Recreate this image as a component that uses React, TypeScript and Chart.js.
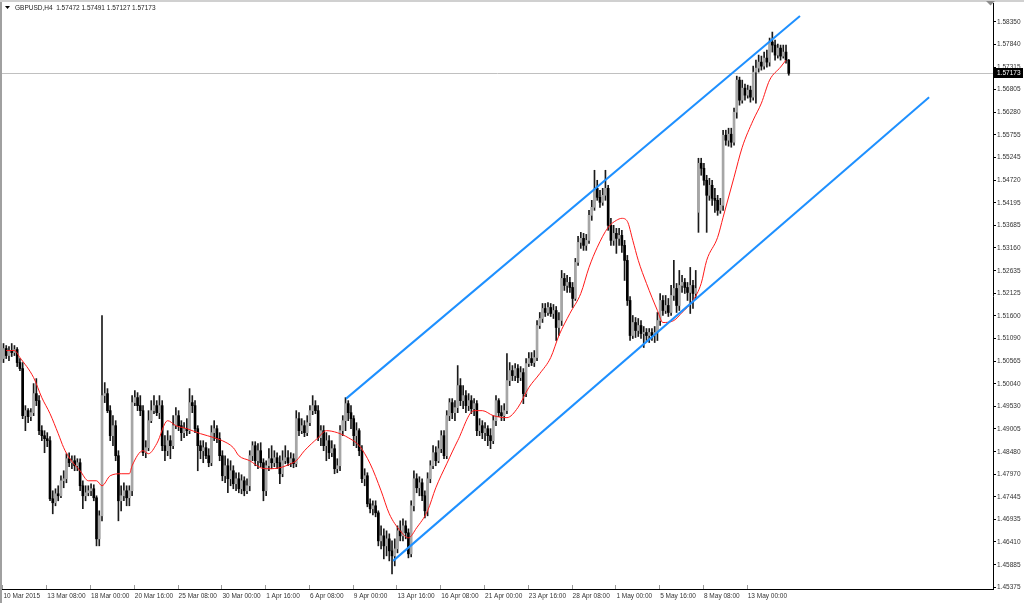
import React, { useEffect, useRef } from "react";
import { Chart, registerables } from "chart.js";

Chart.register(...registerables);

const symbolTitle = "GBPUSD,H4";
const headerValues = ["1.57472", "1.57491", "1.57127", "1.57173"];
const lastClose = 1.57173;

const opens = [
  1.50621,1.50851,1.50690,1.50805,1.50759,1.50828,1.50529,1.50391,1.49310,1.49425,
  1.49287,1.49379,1.49816,1.49655,1.48965,1.48850,1.48781,1.48735,1.47401,1.47309,
  1.47516,1.47470,1.47815,1.47861,1.48321,1.48229,1.48275,1.48160,1.48229,1.47700,
  1.47470,1.47539,1.47585,1.47631,1.47424,1.46481,1.47010,1.49770,1.49816,1.49425,
  1.48850,1.49080,1.48390,1.47355,1.47470,1.47585,1.47424,1.47585,1.49609,1.49724,
  1.49540,1.49425,1.48459,1.48574,1.49195,1.49425,1.49540,1.49379,1.49540,1.48620,
  1.48505,1.48735,1.48620,1.49080,1.49310,1.49080,1.48919,1.49011,1.48965,1.49609,
  1.49540,1.49011,1.48620,1.48505,1.48574,1.48390,1.48229,1.48919,1.49011,1.48781,
  1.48390,1.47930,1.48160,1.47861,1.48045,1.47746,1.47861,1.47631,1.47815,1.47585,
  1.47700,1.48390,1.48620,1.48275,1.48505,1.48229,1.47585,1.48160,1.48321,1.48229,
  1.48344,1.48229,1.47976,1.48275,1.48344,1.48229,1.48321,1.48206,1.49241,1.48965,
  1.49080,1.48919,1.49149,1.49425,1.49540,1.49425,1.48804,1.48965,1.48620,1.48735,
  1.48459,1.48551,1.48091,1.48160,1.48965,1.49195,1.49586,1.49379,1.49241,1.48850,
  1.48965,1.48505,1.47861,1.47930,1.47286,1.47171,1.47240,1.47079,1.46435,1.46550,
  1.46320,1.46481,1.46205,1.46090,1.46251,1.46665,1.46550,1.46780,1.46619,1.46136,
  1.47240,1.47861,1.47654,1.47769,1.47470,1.47125,1.47861,1.48160,1.48459,1.48275,
  1.48551,1.48850,1.48390,1.49310,1.49609,1.49379,1.49494,1.50000,1.49655,1.49770,
  1.49540,1.49655,1.49471,1.49586,1.48965,1.49080,1.48919,1.49011,1.48850,1.48735,
  1.49195,1.49655,1.49379,1.49310,1.49425,1.50115,1.50345,1.50230,1.50391,1.50184,
  1.50299,1.49816,1.50506,1.50621,1.50529,1.50644,1.51380,1.51541,1.51771,1.51679,
  1.51794,1.51656,1.51725,1.51334,1.51495,1.52461,1.52300,1.52369,1.52254,1.52001,
  1.52829,1.53289,1.53381,1.53220,1.53335,1.53910,1.54094,1.54531,1.54324,1.54209,
  1.54370,1.54531,1.53680,1.53335,1.53496,1.53381,1.53450,1.53220,1.52875,1.51955,
  1.51150,1.51449,1.51265,1.51380,1.51196,1.51219,1.51150,1.51219,1.51150,1.51219,
  1.51495,1.51955,1.51725,1.51840,1.51679,1.52070,1.52231,1.51840,1.52300,1.52369,
  1.52254,1.52139,1.52300,1.52116,1.53979,1.55106,1.54991,1.54715,1.54370,1.54600,
  1.54301,1.54255,1.54025,1.54140,1.55750,1.55635,1.55773,1.55589,1.56279,1.57015,
  1.56555,1.56831,1.56670,1.56785,1.56624,1.57199,1.57291,1.57429,1.57337,1.57521,
  1.57429,1.57889,1.57820,1.57590,1.57751,1.57567,1.57659,1.57472
];

const highs = [
  1.50966,1.50920,1.50897,1.50966,1.50920,1.50874,1.50621,1.50529,1.49540,1.49471,
  1.49471,1.50046,1.50161,1.49770,1.49080,1.48965,1.48919,1.48827,1.47585,1.47631,
  1.47700,1.47930,1.48045,1.48436,1.48459,1.48390,1.48390,1.48321,1.48321,1.47815,
  1.47700,1.47700,1.47746,1.47723,1.47470,1.47125,1.51610,1.50069,1.49931,1.49540,
  1.49310,1.49195,1.48505,1.47700,1.47769,1.47700,1.47700,1.49770,1.49885,1.49839,
  1.49770,1.49540,1.48735,1.49425,1.49655,1.49770,1.49655,1.49770,1.49655,1.48850,
  1.48965,1.48850,1.49310,1.49494,1.49425,1.49195,1.49149,1.49241,1.49931,1.49770,
  1.49655,1.49080,1.48735,1.48735,1.48689,1.48551,1.49080,1.49195,1.49080,1.48919,
  1.48505,1.48390,1.48321,1.48275,1.48160,1.47999,1.47999,1.47953,1.47907,1.47861,
  1.48505,1.48712,1.48712,1.48666,1.48689,1.48321,1.48275,1.48551,1.48620,1.48505,
  1.48459,1.48390,1.48505,1.48620,1.48505,1.48459,1.48436,1.49425,1.49379,1.49241,
  1.49195,1.49310,1.49540,1.49770,1.49655,1.49540,1.49080,1.49080,1.48919,1.48850,
  1.48735,1.48643,1.48321,1.49080,1.49310,1.49724,1.49655,1.49540,1.49310,1.49149,
  1.49011,1.48620,1.48091,1.47999,1.47401,1.47355,1.47355,1.47125,1.46780,1.46711,
  1.46665,1.46596,1.46435,1.46481,1.46780,1.46895,1.46941,1.46895,1.46711,1.47355,
  1.48045,1.47976,1.47907,1.47861,1.47585,1.47999,1.48275,1.48620,1.48597,1.48735,
  1.48965,1.48965,1.49425,1.49701,1.49701,1.49655,1.50460,1.50161,1.50000,1.49885,
  1.49816,1.49770,1.49701,1.49655,1.49241,1.49195,1.49149,1.49080,1.49011,1.49310,
  1.49770,1.49701,1.49540,1.49586,1.50736,1.50529,1.50460,1.50506,1.50483,1.50437,
  1.50391,1.50621,1.50759,1.50759,1.50805,1.51495,1.51679,1.51886,1.51886,1.51909,
  1.51886,1.51863,1.51817,1.51679,1.52645,1.52576,1.52530,1.52484,1.52369,1.52921,
  1.53427,1.53519,1.53496,1.53473,1.54025,1.54255,1.54945,1.54715,1.54485,1.54531,
  1.54945,1.54600,1.53841,1.53680,1.53611,1.53611,1.53565,1.53335,1.52990,1.52047,
  1.51610,1.51564,1.51541,1.51495,1.51357,1.51311,1.51311,1.51311,1.51357,1.51679,
  1.52116,1.52070,1.52070,1.52001,1.52300,1.52875,1.52346,1.52645,1.52530,1.52461,
  1.52369,1.52714,1.52415,1.52645,1.55221,1.55221,1.55106,1.54830,1.54761,1.54715,
  1.54531,1.54370,1.54301,1.55865,1.55865,1.55911,1.55911,1.56371,1.57107,1.57084,
  1.57015,1.56923,1.56900,1.56877,1.57337,1.57475,1.57590,1.57567,1.57659,1.57705,
  1.57981,1.58119,1.57935,1.57843,1.57820,1.57820,1.57820,1.57491
];

const lows = [
  1.50529,1.50621,1.50575,1.50667,1.50690,1.50437,1.50345,1.49241,1.48965,1.49149,
  1.49195,1.49310,1.49540,1.48873,1.48735,1.48459,1.48597,1.47355,1.47056,1.47240,
  1.47355,1.47424,1.47654,1.47769,1.48137,1.48091,1.48045,1.48045,1.47585,1.47171,
  1.47355,1.47470,1.47470,1.47355,1.46320,1.46320,1.46895,1.49609,1.49379,1.48735,
  1.48620,1.48275,1.46895,1.47125,1.47355,1.47240,1.47240,1.47470,1.49540,1.49425,
  1.49310,1.48390,1.48344,1.48505,1.49149,1.49356,1.49310,1.49241,1.48505,1.48275,
  1.48390,1.48321,1.48551,1.49011,1.48965,1.48735,1.48804,1.48850,1.48896,1.49379,
  1.48919,1.48045,1.48321,1.48229,1.48321,1.48137,1.48160,1.48735,1.48689,1.48275,
  1.47815,1.47769,1.47539,1.47700,1.47631,1.47585,1.47539,1.47516,1.47470,1.47516,
  1.47585,1.48275,1.48160,1.48091,1.48137,1.47355,1.47470,1.48045,1.48091,1.48137,
  1.48091,1.47746,1.47907,1.48206,1.48160,1.48137,1.48114,1.48137,1.48850,1.48896,
  1.48827,1.48850,1.49080,1.49333,1.49356,1.48735,1.48620,1.48505,1.48275,1.48321,
  1.48367,1.47976,1.47999,1.48045,1.48850,1.48965,1.49195,1.49011,1.48620,1.48574,
  1.48390,1.47769,1.47700,1.47217,1.47079,1.47033,1.46987,1.46320,1.46251,1.46021,
  1.46090,1.45975,1.45676,1.45860,1.46159,1.46435,1.46435,1.46481,1.46044,1.46067,
  1.47125,1.47539,1.47470,1.47355,1.46964,1.47010,1.47769,1.48091,1.48160,1.48229,
  1.48459,1.48321,1.48321,1.49195,1.49241,1.49195,1.49379,1.49540,1.49471,1.49379,
  1.49425,1.49356,1.49310,1.48850,1.48850,1.48781,1.48735,1.48620,1.48551,1.48666,
  1.49080,1.49287,1.49195,1.49195,1.49356,1.50000,1.50115,1.50115,1.50069,1.50115,
  1.49586,1.49747,1.50437,1.50460,1.50437,1.50575,1.51311,1.51449,1.51587,1.51610,
  1.51587,1.51541,1.51035,1.51150,1.51380,1.52185,1.52139,1.52139,1.51794,1.51955,
  1.52760,1.53151,1.53105,1.53105,1.53266,1.53795,1.54025,1.54255,1.54094,1.54140,
  1.54255,1.53565,1.53220,1.53220,1.53036,1.53220,1.53059,1.52415,1.51840,1.51035,
  1.51081,1.51104,1.51127,1.51081,1.50874,1.51035,1.50989,1.51035,1.50989,1.51035,
  1.51380,1.51610,1.51656,1.51587,1.51610,1.51955,1.51679,1.51725,1.52139,1.52116,
  1.51955,1.51656,1.51771,1.52001,1.53519,1.54830,1.54600,1.53519,1.54255,1.54140,
  1.53979,1.53910,1.53956,1.54025,1.55520,1.55497,1.55474,1.55520,1.56141,1.56440,
  1.56486,1.56555,1.56601,1.56509,1.56555,1.56486,1.57199,1.57245,1.57268,1.57314,
  1.57337,1.57659,1.57475,1.57521,1.57475,1.57521,1.57406,1.57127
];

const closes = [
  1.50851,1.50690,1.50805,1.50759,1.50828,1.50529,1.50391,1.49310,1.49425,1.49287,
  1.49379,1.49816,1.49655,1.48965,1.48850,1.48781,1.48735,1.47401,1.47309,1.47516,
  1.47470,1.47815,1.47861,1.48321,1.48229,1.48275,1.48160,1.48229,1.47700,1.47470,
  1.47539,1.47585,1.47631,1.47424,1.46481,1.47010,1.49770,1.49816,1.49425,1.48850,
  1.49080,1.48390,1.47355,1.47470,1.47585,1.47424,1.47585,1.49609,1.49724,1.49540,
  1.49425,1.48459,1.48574,1.49195,1.49425,1.49540,1.49379,1.49540,1.48620,1.48505,
  1.48735,1.48620,1.49080,1.49310,1.49080,1.48919,1.49011,1.48965,1.49609,1.49540,
  1.49011,1.48620,1.48505,1.48574,1.48390,1.48229,1.48919,1.49011,1.48781,1.48390,
  1.47930,1.48160,1.47861,1.48045,1.47746,1.47861,1.47631,1.47815,1.47585,1.47700,
  1.48390,1.48620,1.48275,1.48505,1.48229,1.47585,1.48160,1.48321,1.48229,1.48344,
  1.48229,1.47976,1.48275,1.48344,1.48229,1.48321,1.48206,1.49241,1.48965,1.49080,
  1.48919,1.49149,1.49425,1.49540,1.49425,1.48804,1.48965,1.48620,1.48735,1.48459,
  1.48551,1.48091,1.48160,1.48965,1.49195,1.49586,1.49379,1.49241,1.48850,1.48965,
  1.48505,1.47861,1.47930,1.47286,1.47171,1.47240,1.47079,1.46435,1.46550,1.46320,
  1.46481,1.46205,1.46090,1.46251,1.46665,1.46550,1.46780,1.46619,1.46136,1.47240,
  1.47861,1.47654,1.47769,1.47470,1.47125,1.47861,1.48160,1.48459,1.48275,1.48551,
  1.48850,1.48390,1.49310,1.49609,1.49379,1.49494,1.50000,1.49655,1.49770,1.49540,
  1.49655,1.49471,1.49586,1.48965,1.49080,1.48919,1.49011,1.48850,1.48735,1.49195,
  1.49655,1.49379,1.49310,1.49425,1.50115,1.50345,1.50230,1.50391,1.50184,1.50299,
  1.49816,1.50506,1.50621,1.50529,1.50644,1.51380,1.51541,1.51771,1.51679,1.51794,
  1.51656,1.51725,1.51334,1.51495,1.52461,1.52300,1.52369,1.52254,1.52001,1.52829,
  1.53289,1.53381,1.53220,1.53335,1.53910,1.54094,1.54531,1.54324,1.54209,1.54370,
  1.54531,1.53680,1.53335,1.53496,1.53381,1.53450,1.53220,1.52875,1.51955,1.51150,
  1.51449,1.51265,1.51380,1.51196,1.51219,1.51150,1.51219,1.51150,1.51219,1.51495,
  1.51955,1.51725,1.51840,1.51679,1.52070,1.52231,1.51840,1.52300,1.52369,1.52254,
  1.52139,1.52300,1.52116,1.52231,1.55106,1.54991,1.54715,1.54370,1.54600,1.54301,
  1.54255,1.54025,1.54140,1.55750,1.55635,1.55773,1.55589,1.56279,1.57015,1.56555,
  1.56831,1.56670,1.56785,1.56624,1.57199,1.57291,1.57429,1.57337,1.57521,1.57429,
  1.57889,1.57820,1.57590,1.57751,1.57567,1.57659,1.57472,1.57173
];

// moving average (bar index, price)
const maBars = [1,4,6,11,14,17,20,22,24,28,31,34,36,39,43,46,47,51,53,56,60,63,67,72,77,80,84,86,90,94,97,101,105,107,110,115,118,122,126,130,134,138,141,145,148,151,155,158,162,166,172,175,179,184,188,192,196,200,203,207,211,214,217,221,224,226,228,230,232,235,239,241,245,248,252,255,257,261,263,267,270,274,277,280,284,286];
const maValues = [1.50805,1.50805,1.50644,1.50184,1.49724,1.49356,1.48896,1.48574,1.48344,1.48045,1.47815,1.47815,1.47700,1.47930,1.47976,1.47976,1.48160,1.48505,1.48436,1.48666,1.49195,1.49080,1.49011,1.48896,1.48804,1.48735,1.48574,1.48390,1.48275,1.48114,1.48091,1.48114,1.48206,1.48275,1.48505,1.48804,1.48965,1.48919,1.48804,1.48620,1.48206,1.47585,1.47056,1.46665,1.46504,1.46734,1.47125,1.47654,1.48206,1.48735,1.49425,1.49425,1.49310,1.49264,1.49494,1.49954,1.50276,1.50644,1.51150,1.51656,1.52116,1.52714,1.53174,1.53634,1.53795,1.53841,1.53772,1.53335,1.52875,1.52346,1.51725,1.51449,1.51495,1.51679,1.51955,1.52346,1.52875,1.53404,1.53864,1.54784,1.55474,1.56095,1.56486,1.57015,1.57314,1.57475];

// channel lines (bar index, price) endpoints
const upperChannelBars = [125.2, 291.1];
const upperChannelPrices = [1.49701, 1.58487];
const lowerChannelBars = [142.4, 338.3];
const lowerChannelPrices = [1.45975, 1.56624];

const xTickBars = [0,16,32,48,64,80,96,112,128,144,160,176,192,208,224,240,256,272];
const xTickLabels = ["10 Mar 2015","13 Mar 08:00","18 Mar 00:00","20 Mar 16:00","25 Mar 08:00","30 Mar 00:00","1 Apr 16:00","6 Apr 08:00","9 Apr 00:00","13 Apr 16:00","16 Apr 08:00","21 Apr 00:00","23 Apr 16:00","28 Apr 08:00","1 May 00:00","5 May 16:00","8 May 08:00","13 May 00:00"];

const yTickValues = [1.58350,1.57840,1.57315,1.56805,1.56280,1.55755,1.55245,1.54720,1.54195,1.53685,1.53160,1.52635,1.52125,1.51600,1.51090,1.50565,1.50040,1.49530,1.49005,1.48480,1.47970,1.47445,1.46935,1.46410,1.45885,1.45375];

const FONT_FAMILY = "'Liberation Sans', Arial, sans-serif";
const FONT_SIZE = 6.5;

export default function App() {
  const canvasRef = useRef<HTMLCanvasElement | null>(null);

  useEffect(() => {
    document.body.style.margin = "0";
    const canvas = canvasRef.current;
    if (!canvas) return;

    const bodies = opens.map((o, i) => ({ x: i, y: [o, closes[i]] }));
    const wicks = highs.map((h, i) => ({ x: i, y: [lows[i], h] }));
    const bodyColors = opens.map((o, i) => (closes[i] >= o ? "#a6a6a6" : "#000000"));
    const bodyBorders = opens.map((o, i) => (closes[i] >= o ? "#3a3a3a" : "#000000"));

    const framePlugin = {
      id: "mtFrame",
      beforeDraw(chart: any) {
        const c = chart.ctx;
        c.save();
        c.fillStyle = "#ffffff";
        c.fillRect(0, 0, chart.width, chart.height);
        c.restore();
      },
      beforeDatasetsDraw(chart: any) {
        const { ctx: c, chartArea: a, scales } = chart;
        const y = Math.round(scales.y.getPixelForValue(lastClose)) + 0.5;
        c.save();
        c.strokeStyle = "#c0c0c0";
        c.lineWidth = 1;
        c.beginPath();
        c.moveTo(a.left, y);
        c.lineTo(a.right, y);
        c.stroke();
        c.restore();
      },
      afterDraw(chart: any) {
        const { ctx: c, chartArea: a, scales } = chart;
        c.save();
        c.strokeStyle = "#9a9a9a";
        c.lineWidth = 1;
        xTickBars.forEach((v) => {
          const x = Math.round(scales.x.getPixelForValue(v)) - 0.5;
          c.beginPath();
          c.moveTo(x, a.bottom - 4);
          c.lineTo(x, a.bottom);
          c.stroke();
        });
        c.fillStyle = "#a0a0a0";
        c.fillRect(0, 0, 2, chart.height);
        c.fillStyle = "#d0d0d0";
        c.fillRect(0, 0, chart.width, 2);
        c.fillStyle = "#8c8c8c";
        c.beginPath();
        c.moveTo(986, 1);
        c.lineTo(995, 1);
        c.lineTo(990.5, 5.5);
        c.closePath();
        c.fill();
        c.fillStyle = "#000";
        c.beginPath();
        c.moveTo(5, 6);
        c.lineTo(10, 6);
        c.lineTo(7.5, 9);
        c.closePath();
        c.fill();
        const y = scales.y.getPixelForValue(lastClose);
        c.fillStyle = "#000";
        c.fillRect(a.right + 1, Math.round(y) - 5, 29, 10);
        c.fillStyle = "#fff";
        c.font = `${FONT_SIZE}px ${FONT_FAMILY}`;
        c.textBaseline = "middle";
        c.textAlign = "left";
        c.fillText(lastClose.toFixed(5), a.right + 4, y);
        c.restore();
      },
    };

    const chart = new Chart(canvas, {
      type: "bar",
      data: {
        datasets: [
          {
            type: "line",
            label: "upper",
            data: upperChannelBars.map((x, i) => ({ x, y: upperChannelPrices[i] })),
            borderColor: "#1e90ff",
            borderWidth: 2,
            pointRadius: 0,
            order: 0,
          } as any,
          {
            type: "line",
            label: "lower",
            data: lowerChannelBars.map((x, i) => ({ x, y: lowerChannelPrices[i] })),
            borderColor: "#1e90ff",
            borderWidth: 2,
            pointRadius: 0,
            order: 0,
          } as any,
          {
            type: "line",
            label: "ma",
            data: maBars.map((x, i) => ({ x, y: maValues[i] })),
            borderColor: "#ff1a1a",
            borderWidth: 1,
            pointRadius: 0,
            cubicInterpolationMode: "monotone",
            order: 1,
          } as any,
          {
            type: "bar",
            label: "bodies",
            data: bodies,
            backgroundColor: bodyColors,
            borderColor: bodyBorders,
            borderWidth: 0,
            barThickness: 2,
            minBarLength: 1,
            grouped: false,
            order: 2,
          } as any,
          {
            type: "bar",
            label: "wicks",
            data: wicks,
            backgroundColor: "#1a1a1a",
            barThickness: 1,
            grouped: false,
            order: 3,
          } as any,
        ],
      },
      options: {
        animation: false,
        responsive: false,
        devicePixelRatio: 1,
        events: [],
        layout: { padding: { left: 2, top: 3, right: 0, bottom: 0 } },
        plugins: { legend: { display: false }, tooltip: { enabled: false } },
        scales: {
          x: {
            type: "linear",
            min: -0.548,
            max: 361.65,
            offset: false,
            grid: { display: false, drawTicks: false, offset: false },
            border: { display: true, color: "#000", width: 1 },
            afterBuildTicks: (scale: any) => {
              scale.ticks = xTickBars.map((v) => ({ value: v }));
            },
            afterFit: (scale: any) => {
              scale.height = 14;
              scale.paddingLeft = 0;
              scale.paddingRight = 0;
            },
            ticks: {
              autoSkip: false,
              maxRotation: 0,
              minRotation: 0,
              align: "start",
              padding: 3,
              color: "#333",
              font: { size: FONT_SIZE, family: FONT_FAMILY },
              callback: (value: any) => {
                const k = xTickBars.indexOf(Number(value));
                return k >= 0 ? xTickLabels[k] : "";
              },
            },
          } as any,
          y: {
            type: "linear",
            position: "right",
            min: 1.453291,
            max: 1.587863,
            grid: { display: true, drawOnChartArea: false, drawTicks: true, tickLength: 3, color: "#000" },
            border: { display: true, color: "#000", width: 1 },
            afterBuildTicks: (scale: any) => {
              scale.ticks = yTickValues.map((v) => ({ value: v }));
            },
            afterFit: (scale: any) => {
              scale.width = 31;
              scale.paddingTop = 0;
              scale.paddingBottom = 0;
            },
            ticks: {
              padding: 1,
              color: "#333",
              font: { size: FONT_SIZE, family: FONT_FAMILY },
              callback: (value: any) => Number(value).toFixed(5),
            },
          } as any,
        },
      },
      plugins: [framePlugin],
    } as any);

    return () => chart.destroy();
  }, []);

  return (
    <div style={{ position: "relative", width: 1024, height: 603, background: "#fff", overflow: "hidden" }}>
      <canvas ref={canvasRef} width={1024} height={603} style={{ display: "block", width: 1024, height: 603 }} />
      <div
        style={{
          position: "absolute",
          left: 15,
          top: 4,
          fontFamily: FONT_FAMILY,
          fontSize: `${FONT_SIZE}px`,
          lineHeight: "8px",
          color: "#222",
          whiteSpace: "pre",
        }}
      >
        {`${symbolTitle}  ${headerValues.join(" ")}`}
      </div>
    </div>
  );
}
